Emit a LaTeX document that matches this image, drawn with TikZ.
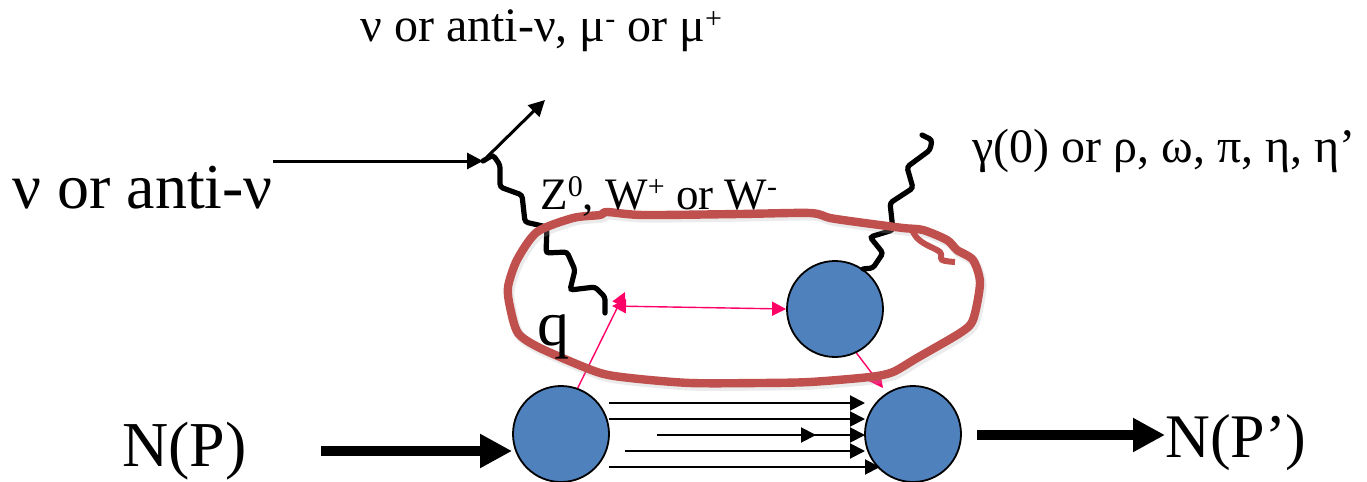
\documentclass[tikz,border=0pt]{standalone}
\usepackage{fontspec}
\setmainfont{Liberation Serif}
\usetikzlibrary{arrows.meta}
\definecolor{blobblue}{HTML}{4F81BD}
\definecolor{looped}{HTML}{C0504D}
\definecolor{pinkline}{HTML}{FF0066}
\newcommand{\upmark}[1]{\raisebox{0.27em}{\fontsize{15}{15}\selectfont #1}}

\tikzset{
  blob/.style={circle,draw=black,line width=0.9pt,fill=blobblue,minimum size=48pt,inner sep=0pt},
  fermion/.style={line width=1pt,-{Triangle[length=7.5pt,width=7.5pt]}},
  lepton/.style={line width=1.5pt,-{Triangle[length=8pt,width=8pt]}},
  heavy/.style={line width=5pt,-{Triangle[length=16pt,width=16pt]}},
  wavy/.style={line width=2.6pt,rounded corners=1.5pt,line cap=round},
  pinkarrow/.style={pinkline,line width=0.7pt,-{Triangle[length=7pt,width=7pt]}},
  handloop/.style={looped,line width=4.2pt,line join=round,
    preaction={draw=black!30,opacity=0.25,line width=4.6pt,transform canvas={shift={(1pt,-1.5pt)}}}},
  biglabel/.style={anchor=base west,inner sep=0pt,font=\fontsize{32}{38}\selectfont},
  midlabel/.style={anchor=base west,inner sep=0pt,font=\fontsize{24}{28}\selectfont},
}

\begin{document}
\begin{tikzpicture}[x=0.5pt,y=-0.5pt]
\useasboundingbox (0,0) rectangle (1367,482);
\fill[white] (0,0) rectangle (1367,482);

\node[blob] (nin) at (561,434) {};
\node[blob] (nout) at (913,434) {};
\node[blob] (meson) at (835,309) {};

\coordinate (vtx) at (483,161);
\coordinate (nustart) at (273,161);
\coordinate (nuend) at (545,100);
\coordinate (qend) at (605,313);
\coordinate (qtipa) at (625,292);
\coordinate (qtipb) at (612,306);
\coordinate (gamend) at (922,135);
\coordinate (ninarrow) at (321,451);
\coordinate (noutarrow) at (1165,435);

% lepton line
\draw[lepton] (nustart) -- (vtx);
\draw[lepton] (487,157) -- (nuend);

% exchanged boson and outgoing boson
\draw[wavy] (vtx) -- (493,155) -- (500,165) -- (500,187) -- (522,195) -- (525,222) -- (547,227)
  -- (546,253) -- (567,252) -- (575,270) -- (570,290) -- (595,287) -- (605,297) -- (qend);
\draw[wavy] (meson.55) -- (873,268) -- (883,253) -- (870,237) -- (893,230) -- (890,203)
  -- (913,188) -- (907,167) -- (930,150) -- (932,140) -- (gamend);

% pink quark lines
\draw[pinkarrow] (nin.70) -- (qtipa);
\draw[pinkarrow,{Triangle[length=7pt,width=7pt]}-{Triangle[length=7pt,width=7pt]}] (qtipb) -- (meson.west);
\draw[pinkarrow] (meson.-64) -- (883,388);

% spectator lines
\foreach \i/\xs/\xe/\ys in {1/609/865/403, 2/609/865/419, 3/657/865/435, 4/625/865/451, 5/609/880/467}{
  \coordinate (pa\i) at (\xs,\ys);
  \coordinate (pb\i) at (\xe,\ys);
  \draw[fermion] (pa\i) -- (pb\i);
}
\coordinate (pm3) at (816,435);
\draw[fermion] (pa3) -- (pm3);

% heavy arrows
\draw[heavy] (ninarrow) -- (nin.west |- ninarrow);
\draw[heavy] (977,435) -- (noutarrow);

% hand drawn loop
\draw[handloop] plot[smooth cycle,tension=0.45] coordinates {(607,212) (643,215) (740,214) (810,213)
  (830,218) (857,222) (903,228) (923,230) (947,240) (957,250) (973,260) (980,283) (973,320)
  (960,333) (917,358) (893,372) (870,377) (810,382) (760,383) (690,383) (630,378) (597,372)
  (540,348) (518,333) (510,307) (508,287) (517,260) (537,232) (573,218) (600,215)};
\draw[looped,line width=3pt,line join=round] plot[smooth,tension=0.5] coordinates {(912,230) (917,238) (925,244) (940,252) (942,260) (955,262)};

% labels
\node[midlabel] (toplabel) at (360,41) {ν or anti-ν, μ\upmark{-} or μ\upmark{+}};
\node[biglabel] (nulabel) at (12,208) {ν or anti-ν};
\node[midlabel,font=\fontsize{22.5}{26}\selectfont] (bosonlabel) at (540,209) {Z\upmark{0}, W\upmark{+} or W\upmark{-}};
\node[midlabel] (gamlabel) at (972,162) {γ(0) or ρ, ω, π, η, η’};
\node[biglabel] (qlabel) at (537,345) {q};
\node[biglabel] (inlabel) at (122,466) {N(P)};
\node[biglabel,font=\fontsize{31}{38}\selectfont] (outlabel) at (1165,457) {N(P’)};
\end{tikzpicture}
\end{document}
